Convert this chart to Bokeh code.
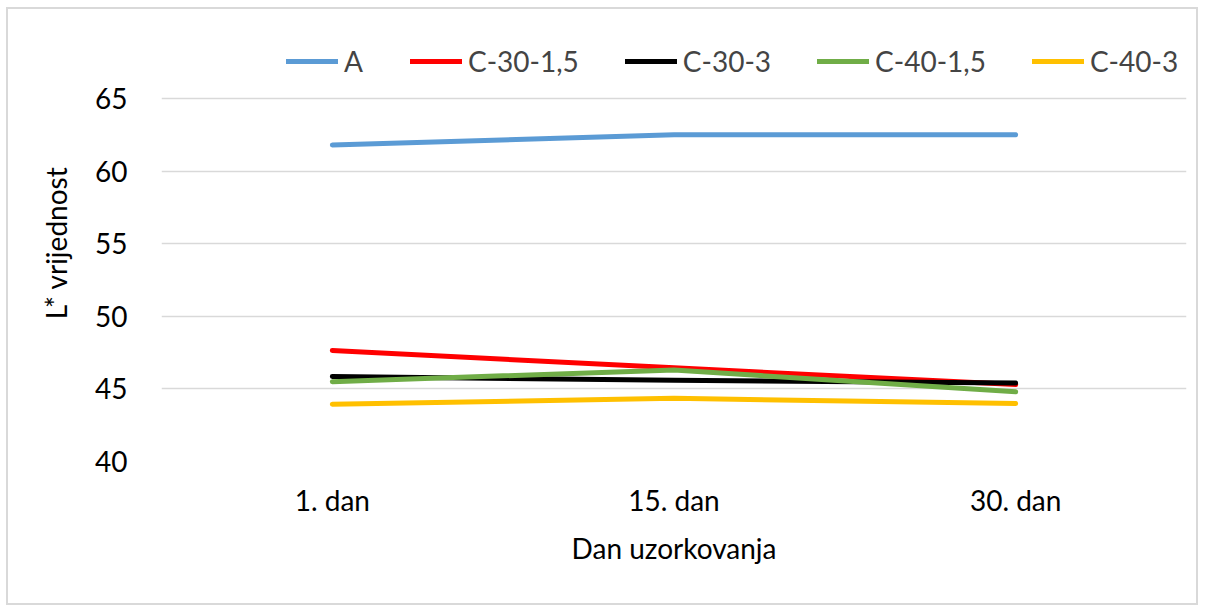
from bokeh.plotting import figure
from bokeh.models import FactorRange, Range1d, FixedTicker, Legend, LegendItem
from bokeh.embed import file_html
from bokeh.resources import INLINE

days = ["1. dan", "15. dan", "30. dan"]
series_names = ["A", "C-30-1,5", "C-30-3", "C-40-1,5", "C-40-3"]
A = [61.8, 62.5, 62.5]
C_30_15 = [47.65, 46.45, 45.3]
C_30_3 = [45.85, 45.6, 45.4]
C_40_15 = [45.5, 46.3, 44.8]
C_40_3 = [43.95, 44.35, 44.0]
y_ticks = [40, 45, 50, 55, 60, 65]

values = [A, C_30_15, C_30_3, C_40_15, C_40_3]
colors = ["#5b9bd5", "#ff0000", "#000000", "#70ad47", "#ffc000"]

FONT = "Lato"

p = figure(width=1192, height=598, output_backend="svg", toolbar_location=None,
           x_range=FactorRange(*days), y_range=Range1d(40, 70.1),
           min_border_left=153, min_border_right=14, min_border_top=15,
           min_border_bottom=146)
p.styles = {"border": "2px solid #d9d9d9", "box-sizing": "border-box",
            "margin-left": "6px", "margin-top": "7px"}
p.outline_line_color = None
p.background_fill_color = "white"
p.border_fill_color = "white"

renderers = []
for name, vals, c in zip(series_names, values, colors):
    r = p.line(days, vals, line_color=c, line_width=5, line_cap="round", line_join="round")
    renderers.append((name, r))

p.yaxis.ticker = FixedTicker(ticks=y_ticks)
p.ygrid.ticker = FixedTicker(ticks=y_ticks)
p.xgrid.grid_line_color = None
p.ygrid.grid_line_color = "#d9d9d9"
p.ygrid.grid_line_width = 1.5

for ax in (p.xaxis[0], p.yaxis[0]):
    ax.axis_line_color = None
    ax.major_tick_line_color = None
    ax.minor_tick_line_color = None
    ax.major_label_text_font = FONT
    ax.major_label_text_font_size = "28px"
    ax.major_label_text_color = "#000000"
    ax.axis_label_text_font = FONT
    ax.axis_label_text_font_size = "28px"
    ax.axis_label_text_font_style = "normal"
    ax.axis_label_text_color = "#000000"

p.yaxis.axis_label = "L* vrijednost"
p.yaxis.major_label_standoff = 28
p.yaxis.axis_label_standoff = 19
p.xaxis.axis_label = "Dan uzorkovanja"
p.xaxis.major_label_standoff = 15
p.xaxis.axis_label_standoff = 11

legend = Legend(items=[LegendItem(label=n, renderers=[r]) for n, r in renderers],
                orientation="horizontal", location=(125, 383),
                label_text_font=FONT, label_text_font_size="28px",
                glyph_width=52, glyph_height=20, label_standoff=6, spacing=46,
                background_fill_alpha=0, border_line_color=None, padding=0, margin=0)
p.add_layout(legend)

open("out.html", "w").write(file_html(p, INLINE))
